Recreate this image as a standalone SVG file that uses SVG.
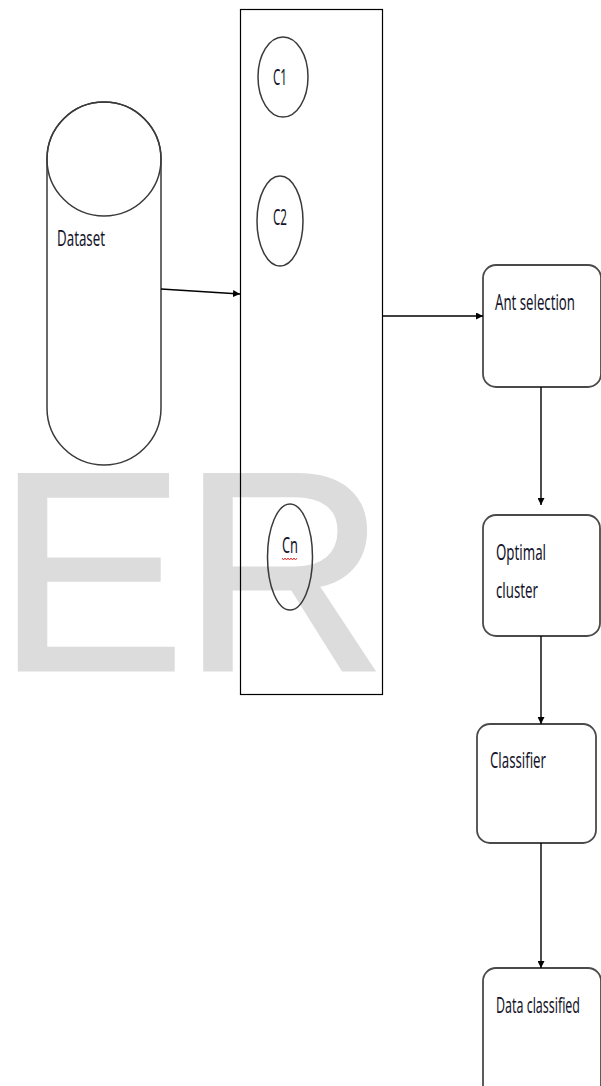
<svg xmlns="http://www.w3.org/2000/svg" width="601" height="1086" viewBox="0 0 601 1086">
  <style>
    .lbl { font-family: "Noto Sans", "Liberation Sans", sans-serif; font-size: 21px; fill: #14142a; }
    .shape { fill: none; stroke: #3a3a3a; stroke-width: 1.5; }
    .step { fill: #ffffff; stroke: #4a4a4a; stroke-width: 1.8; }
    .conn { stroke: #000; stroke-width: 1.4; fill: none; marker-end: url(#arrow); }
    .mark { font-family: "Liberation Sans", Arial, sans-serif; font-size: 284px; fill: #dcdcdc; stroke: #dcdcdc; stroke-width: 3; }
  </style>
  <defs>
    <marker id="arrow" viewBox="0 0 10 10" refX="10" refY="5" markerWidth="7" markerHeight="7" markerUnits="userSpaceOnUse" orient="auto">
      <path d="M0,0 L10,5 L0,10 z" fill="#000"/>
    </marker>
  </defs>

  <rect width="601" height="1086" fill="#ffffff"/>

  <!-- background lettering -->
  <text class="mark" x="-4" y="670" letter-spacing="-4">ER</text>

  <!-- data store -->
  <g id="dataset">
    <path class="shape" d="M47,159 A57,57 0 0 1 161,159 L161,408 A57,57 0 0 1 47,408 Z" fill="#fff"/>
    <ellipse class="shape" cx="104" cy="159" rx="57" ry="57"/>
    <text class="lbl" x="57" y="246" textLength="48" lengthAdjust="spacingAndGlyphs">Dataset</text>
  </g>

  <!-- cluster container -->
  <g id="clusters">
    <rect x="240.5" y="9.5" width="142" height="685" fill="none" stroke="#000" stroke-width="1.2"/>
  </g>
  <g id="c1">
    <ellipse class="shape" cx="283" cy="77" rx="25" ry="40"/>
    <text class="lbl" x="273" y="85" textLength="14" lengthAdjust="spacingAndGlyphs">C1</text>
  </g>
  <g id="c2">
    <ellipse class="shape" cx="280" cy="221" rx="23" ry="45"/>
    <text class="lbl" x="273" y="225" textLength="14" lengthAdjust="spacingAndGlyphs">C2</text>
  </g>
  <g id="cn">
    <ellipse class="shape" cx="290" cy="557" rx="22.5" ry="53"/>
    <text class="lbl" x="282" y="553" textLength="16" lengthAdjust="spacingAndGlyphs">Cn</text>
    <path d="M282,558 l1.5,2 l1.5,-2 l1.5,2 l1.5,-2 l1.5,2 l1.5,-2 l1.5,2 l1.5,-2 l1.5,2 l1.5,-2" fill="none" stroke="#e02020" stroke-width="0.9"/>
  </g>

  <!-- process steps -->
  <g id="ant-selection">
    <rect class="step" x="483" y="265" width="118" height="122" rx="13"/>
    <text class="lbl" x="495" y="310" textLength="80" lengthAdjust="spacingAndGlyphs">Ant selection</text>
  </g>
  <g id="optimal-cluster">
    <rect class="step" x="483" y="515" width="117" height="121" rx="13"/>
    <text class="lbl" x="496" y="560" textLength="50" lengthAdjust="spacingAndGlyphs">Optimal</text>
    <text class="lbl" x="496" y="598" textLength="42" lengthAdjust="spacingAndGlyphs">cluster</text>
  </g>
  <g id="classifier">
    <rect class="step" x="477" y="724" width="119" height="119" rx="13"/>
    <text class="lbl" x="490" y="768" textLength="56" lengthAdjust="spacingAndGlyphs">Classifier</text>
  </g>
  <g id="data-classified">
    <rect class="step" x="483" y="968" width="118" height="130" rx="13"/>
    <text class="lbl" x="496" y="1013" textLength="84" lengthAdjust="spacingAndGlyphs">Data classified</text>
  </g>

  <!-- connectors -->
  <g id="connectors">
    <path class="conn" d="M161,289 L240,294"/>
    <path class="conn" d="M383,316 L483,316"/>
    <path class="conn" d="M541,387 L541,505"/>
    <path class="conn" d="M541,636 L541,724"/>
    <path class="conn" d="M541,843 L541,968"/>
  </g>
</svg>
